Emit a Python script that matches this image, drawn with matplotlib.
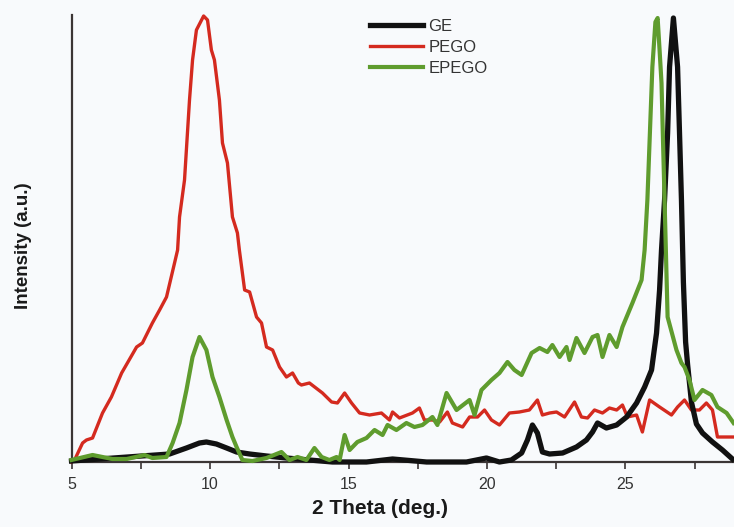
import matplotlib
matplotlib.use('Agg')
import matplotlib.pyplot as plt
from matplotlib.ticker import MultipleLocator

plt.rcParams['font.family'] = ['Liberation Sans', 'DejaVu Sans']

# dane (2 Theta, intensywność w j.u.)
ge_x = [5.0, 8.54, 9.15, 9.62, 9.87, 10.23, 10.6, 10.96, 11.43, 12.04, 12.76, 13.59,
        14.42, 15.65, 16.59, 17.82, 19.26, 19.98, 20.45, 20.88, 21.25, 21.46, 21.64,
        21.82, 22.0, 22.26, 22.73, 23.23, 23.59, 23.81, 23.99, 24.31, 24.68, 25.04,
        25.4, 25.69, 25.94, 26.12, 26.23, 26.3, 26.41, 26.52, 26.59, 26.73, 26.88,
        26.95, 27.02, 27.09, 27.17, 27.24, 27.38, 27.56, 27.78, 28.14, 28.5, 28.86]
ge_y = [1, 8, 14, 19, 20, 18, 14, 10, 8, 6, 4, 2,
        0, 0, 3, 0, 0, 4, 0, 2, 9, 22, 37,
        29, 10, 8, 9, 15, 22, 30, 39, 34, 37, 45,
        59, 75, 92, 129, 172, 212, 262, 329, 395, 444, 395,
        329, 262, 180, 120, 98, 60, 38, 29, 20, 12, 3]

pego_x = [5.0, 5.11, 5.4, 5.54, 5.76, 6.12, 6.44, 6.81, 7.35, 7.56, 7.92, 8.18, 8.43,
          8.72, 8.83, 8.9, 9.08, 9.26, 9.37, 9.51, 9.77, 9.91, 10.05, 10.16, 10.34,
          10.45, 10.63, 10.81, 10.99, 11.06, 11.25, 11.43, 11.68, 11.86, 12.04, 12.26,
          12.51, 12.76, 12.98, 13.19, 13.3, 13.59, 14.06, 14.39, 14.6, 14.86, 15.11,
          15.4, 15.76, 16.19, 16.48, 16.59, 16.84, 17.31, 17.56, 17.74, 18.03, 18.29,
          18.57, 18.75, 19.12, 19.37, 19.66, 19.91, 20.16, 20.45, 20.81, 21.17, 21.53,
          21.82, 22.0, 22.26, 22.51, 22.8, 23.16, 23.41, 23.63, 23.88, 24.17, 24.42,
          24.68, 24.89, 25.07, 25.4, 25.61, 25.87, 26.23, 26.66, 26.88, 27.13, 27.38,
          27.67, 27.92, 28.14, 28.32, 28.65, 28.9]
pego_y = [0, 2, 19, 22, 24, 49, 65, 89, 115, 119, 139, 152, 165,
          199, 212, 245, 282, 362, 402, 432, 446, 442, 412, 402, 362,
          319, 299, 245, 229, 212, 172, 170, 145, 139, 115, 112,
          95, 85, 89, 79, 77, 79, 69, 60, 59, 69, 59,
          49, 47, 49, 42, 50, 44, 49, 54, 42, 42, 40,
          50, 39, 35, 45, 45, 52, 42, 37, 49, 50, 52,
          62, 47, 49, 50, 45, 60, 45, 44, 52, 49, 54,
          52, 57, 45, 47, 30, 62, 55, 47, 55, 62, 52,
          52, 59, 52, 25, 25, 25]

epego_x = [5.0, 5.76, 6.12, 6.48, 6.99, 7.64, 7.92, 8.43, 8.65, 8.9, 9.15, 9.37, 9.62,
           9.87, 10.09, 10.34, 10.6, 10.81, 10.96, 11.17, 11.53, 12.04, 12.58, 12.87,
           13.16, 13.48, 13.77, 14.03, 14.31, 14.57, 14.68, 14.86, 15.04, 15.32, 15.65,
           15.94, 16.23, 16.41, 16.73, 17.09, 17.38, 17.67, 18.03, 18.21, 18.54, 18.9,
           19.37, 19.55, 19.8, 20.16, 20.45, 20.74, 20.99, 21.25, 21.61, 21.9, 22.18,
           22.36, 22.62, 22.87, 22.98, 23.23, 23.52, 23.81, 23.99, 24.17, 24.42, 24.68,
           24.89, 25.25, 25.58, 25.69, 25.79, 25.97, 26.08, 26.16, 26.23, 26.3, 26.41,
           26.52, 26.84, 27.02, 27.13, 27.31, 27.49, 27.78, 28.1, 28.32, 28.65, 28.9]
epego_y = [2, 7, 5, 3, 3, 7, 4, 5, 19, 39, 72, 105, 125,
           112, 85, 65, 42, 25, 15, 2, 1, 4, 10, 2,
           5, 2, 14, 5, 2, 5, 2, 27, 12, 20, 24,
           32, 27, 37, 32, 39, 35, 37, 45, 37, 69, 52,
           62, 47, 72, 82, 89, 100, 92, 87, 109, 114, 110,
           117, 105, 115, 102, 124, 109, 125, 127, 105, 127, 115,
           135, 159, 182, 212, 262, 395, 440, 444, 412, 379, 262,
           145, 112, 99, 95, 82, 62, 72, 67, 55, 49, 39]

tick_vals = [5, 10, 15, 20, 25]

bg = '#f8fafc'
fig = plt.figure(figsize=(7.34, 5.27), dpi=100, facecolor=bg)
ax = fig.add_axes([71.5 / 734, 65 / 527, 662.5 / 734, 447 / 527], facecolor=bg)

ax.plot(pego_x, pego_y, color='#d42a1f', lw=2.4, label='PEGO', zorder=2, clip_on=False)
ax.plot(ge_x, ge_y, color='#111111', lw=3.8, label='GE', zorder=3, clip_on=False)
ax.plot(epego_x, epego_y, color='#5f9c2e', lw=3.0, label='EPEGO', zorder=4, clip_on=False)

ax.set_xlim(5, 5 + 662.5 / 27.7)
ax.set_ylim(0, 447)

ax.spines['top'].set_visible(False)
ax.spines['right'].set_visible(False)
for s in ['left', 'bottom']:
    ax.spines[s].set_color('#3b3535')
    ax.spines[s].set_linewidth(1.6)

ax.set_xticks(tick_vals)
ax.xaxis.set_minor_locator(MultipleLocator(2.5))
ax.tick_params(axis='x', which='both', direction='out', length=5, width=1.2,
               color='#3b3535', labelsize=11.5, pad=6, labelcolor='#333333')
ax.set_yticks([])

ax.set_xlabel('2 Theta (deg.)', fontsize=15, fontweight='bold', color='#1a1a1a')
ax.xaxis.set_label_coords(0.4657, -0.083)
ax.set_ylabel('Intensity (a.u.)', fontsize=13.5, fontweight='bold', color='#1a1a1a')
ax.yaxis.set_label_coords(-0.06, 0.485)

h, l = ax.get_legend_handles_labels()
order = [1, 0, 2]
fig.legend([h[i] for i in order], [l[i] for i in order],
           loc='upper left', bbox_to_anchor=(370 / 734, 1 - 19 / 527),
           frameon=False, fontsize=12, handlelength=3.2, handletextpad=0.3,
           labelspacing=0.36, borderpad=0, borderaxespad=0, labelcolor='#333333')

fig.savefig('out.png', dpi=100, facecolor=bg)
